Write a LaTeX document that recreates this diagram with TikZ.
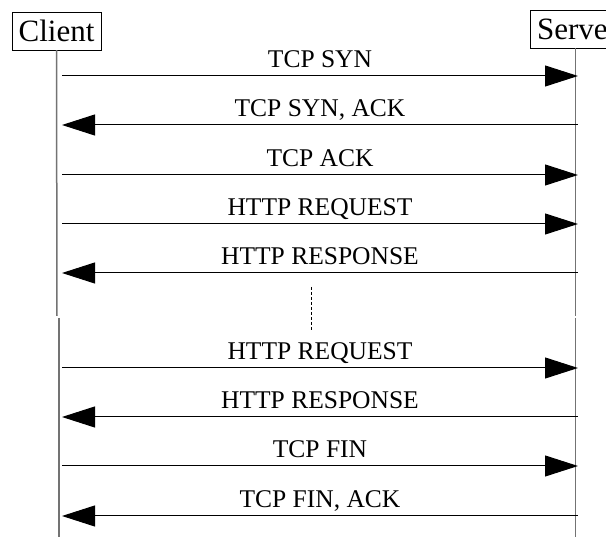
\documentclass[tikz,border=0pt]{standalone}
\usepackage{fontspec}
\setmainfont{Liberation Serif}
\usetikzlibrary{positioning,arrows.meta}

\begin{document}
\begin{tikzpicture}[x=1pt, y=-1pt,
    party/.style={draw, font=\fontsize{31}{34}\selectfont, inner xsep=6.6pt,
                  inner ysep=0pt, minimum height=38pt},
    lifeline/.style={draw=black!55, line width=1.5pt},
    tosrv/.style={line width=1pt, -{Triangle[length=33pt,width=21pt]}},
    tocli/.style={line width=1pt, {Triangle[length=33pt,width=21pt]}-},
    msglabel/.style={font=\fontsize{25.5}{28}\selectfont, anchor=base,
                     inner sep=0pt, yshift=8pt}]
    \useasboundingbox (0,0) rectangle (606,537);

    \node[party] (client) at (56.5,31) {Client};
    \node[party] (server) at (577.5,29) {Server};

    % lifelines, broken where the messages are skipped
    \coordinate (cbreak) at (57,316);
    \coordinate (cresume) at (59,318);
    \coordinate (cend) at (59,537);
    \coordinate (sbreak) at (575.5,316);
    \coordinate (sresume) at (575.5,318);
    \coordinate (send) at (575.5,537);
    \draw[lifeline] (client.south) -- (cbreak);
    \draw[lifeline] (cresume) -- (cend);
    \draw[lifeline] (server.south -| sbreak) -- (sbreak);
    \draw[lifeline] (sresume) -- (send);

    \foreach \y/\txt/\dir [count=\n] in {
        76/TCP SYN/tosrv, 125/{TCP SYN, ACK}/tocli, 175/TCP ACK/tosrv,
        224/HTTP REQUEST/tosrv, 273/HTTP RESPONSE/tocli,
        368/HTTP REQUEST/tosrv, 417/HTTP RESPONSE/tocli,
        466/TCP FIN/tosrv, 516/{TCP FIN, ACK}/tocli} {
      \coordinate (c\n) at (62,\y);
      \coordinate (s\n) at (578,\y);
      \draw[\dir] (c\n) -- (s\n) node[msglabel, midway] {\txt};
    }

    % more requests in between
    \coordinate (gaptop) at (311,287);
    \coordinate (gapbot) at (311,330);
    \draw[dash pattern=on 3pt off 2pt, line width=1pt] (gaptop) -- (gapbot);
\end{tikzpicture}
\end{document}
